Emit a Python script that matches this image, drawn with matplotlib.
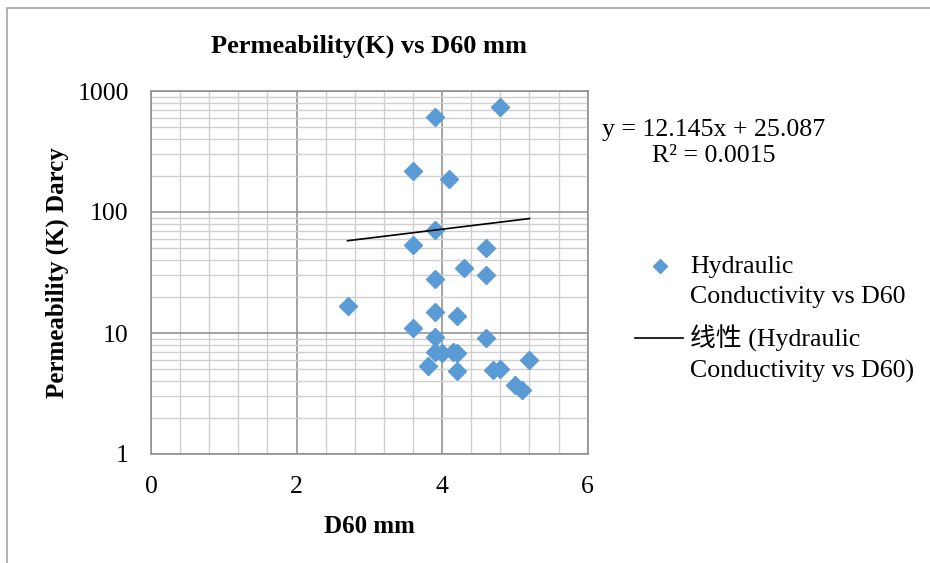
import numpy as np
import matplotlib.pyplot as plt
from matplotlib.patches import Rectangle
from matplotlib.lines import Line2D
from matplotlib.ticker import FixedLocator, NullFormatter

# D60 (mm) and permeability K (Darcy)
d60 = [4.8, 3.9, 3.6, 4.1, 3.9, 3.6, 4.6, 4.3, 4.6, 3.9, 2.7, 3.9, 4.2, 3.6,
       3.9, 4.6, 3.9, 4.0, 4.15, 4.2, 3.8, 4.2, 4.7, 4.8, 5.2, 5.0, 5.1]
perm = [740, 606, 219, 188, 71, 53, 50, 34.7, 30, 27.9, 16.8, 15, 13.8, 10.9,
        9.3, 9.1, 7.0, 6.8, 6.9, 6.8, 5.3, 4.85, 4.9, 5.0, 6.0, 3.7, 3.4]

# linear trend line shown on the chart
slope = 12.145
intercept = 25.087
r2 = 0.0015

xticks = [0, 2, 4, 6]
yticks = [1, 10, 100, 1000]

legend_lines = [['Hydraulic', 'Conductivity vs D60'],
                ['线性 (Hydraulic', 'Conductivity vs D60)']]

blue = '#5b9bd5'
serif = ['Liberation Serif', 'Noto Sans CJK SC']
plt.rcParams['font.family'] = serif

W, H = 930, 563
fig = plt.figure(figsize=(W / 100, H / 100), dpi=100)
ax = fig.add_axes([151 / W, 1 - 454 / H, (587.7 - 151) / W, (454 - 91) / H])


def fx(px):
    return px / W


def fy(py):
    return 1 - py / H


# chart area frame
fig.patches.append(Rectangle((fx(7), -0.1), 1.2, 1.1 - 8 / H,
                             transform=fig.transFigure, fill=False,
                             edgecolor='#a6a6a6', lw=1.2))

ax.set_yscale('log')
ax.set_xlim(0, 6)
ax.set_ylim(1, 1000)

ax.xaxis.set_major_locator(FixedLocator(xticks))
ax.xaxis.set_minor_locator(FixedLocator(np.arange(0, 6.01, 0.4)))
ax.yaxis.set_major_locator(FixedLocator(yticks))
minor_y = [m * 10 ** e for e in range(3) for m in range(2, 10)]
ax.yaxis.set_minor_locator(FixedLocator(minor_y))
ax.yaxis.set_minor_formatter(NullFormatter())
ax.set_yticklabels([str(v) for v in yticks])
ax.set_xticklabels([str(v) for v in xticks])

ax.grid(True, which='major', color='#8c8c8c', lw=1.1)
ax.grid(True, which='minor', color='#cfcfcf', lw=1.0)
ax.set_axisbelow(True)
ax.tick_params(which='both', length=0, labelsize=18.5)
ax.tick_params(axis='y', pad=16)
ax.tick_params(axis='x', pad=16)
for s in ax.spines.values():
    s.set_color('#8c8c8c')
    s.set_linewidth(1.1)

ax.plot(d60, perm, linestyle='none', marker='D', markersize=9.5,
        color=blue, zorder=3)

xt = np.array([min(d60), max(d60)])
ax.plot(xt, slope * xt + intercept, color='black', lw=1.2, zorder=4)

ax.set_title('Permeability(K) vs D60 mm', fontsize=19, fontweight='bold', pad=28)
ax.set_xlabel('D60 mm', fontsize=18, fontweight='bold', labelpad=12)
ax.set_ylabel('Permeability (K) Darcy', fontsize=18, fontweight='bold', labelpad=6)

fig.text(fx(714), fy(143),
         'y = %.3fx + %.3f\nR² = %.4f' % (slope, intercept, r2),
         ha='center', va='center', fontsize=18.6, linespacing=1.27)

# legend, laid out like the Excel one (handle beside the first text line)
fig.add_artist(Line2D([fx(660)], [fy(265.5)], marker='D', markersize=7.5,
                      color=blue, linestyle='none'))
fig.add_artist(Line2D([fx(635), fx(683)], [fy(337.5), fy(337.5)],
                      color='black', lw=1.2))
baselines = [[272.5, 302.5], [346.5, 378]]
for lines, ys in zip(legend_lines, baselines):
    for txt, yb in zip(lines, ys):
        fig.text(fx(690), fy(yb), txt, ha='left', va='baseline', fontsize=18.6)

fig.savefig('out.png', dpi=100)
